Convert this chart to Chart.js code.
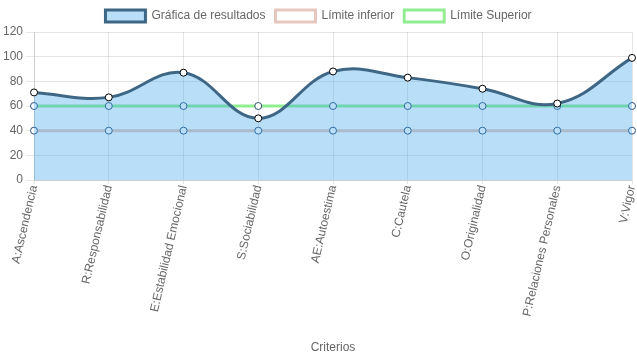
<!DOCTYPE html>
<html>
<head>
<meta charset="utf-8">
<script src="https://cdn.jsdelivr.net/npm/chart.js@4/dist/chart.umd.min.js"></script>
<style>
html,body{margin:0;padding:0;background:#fff;}
#wrap{width:637px;height:359px;}
</style>
</head>
<body>
<div id="wrap"><canvas id="c" width="637" height="359"></canvas></div>
<script>
const categories = ["A:Ascendencia","R:Responsabilidad","E:Estabilidad Emocional","S:Sociabilidad","AE:Autoestima","C:Cautela","O:Originalidad","P:Relaciones Personales","V:Vigor"];
const resultados = [71, 67, 87, 50, 88, 83, 74, 62, 99];
const limiteInferior = [40, 40, 40, 40, 40, 40, 40, 40, 40];
const limiteSuperior = [60, 60, 60, 60, 60, 60, 60, 60, 60];

Chart.defaults.font.family = "'Liberation Sans', Arial, Helvetica, sans-serif";
Chart.defaults.font.size = 12;
Chart.defaults.color = "#666";

new Chart(document.getElementById('c'), {
  type: 'line',
  data: {
    labels: categories,
    datasets: [
      {
        label: 'Gráfica de resultados',
        data: resultados,
        borderColor: '#3e6786',
        backgroundColor: 'rgba(54,162,235,0.35)',
        borderWidth: 3,
        fill: 'origin',
        tension: 0.4,
        pointRadius: 3.5,
        pointBackgroundColor: '#fff',
        pointBorderColor: '#000',
        pointBorderWidth: 1
      },
      {
        label: 'Límite inferior',
        data: limiteInferior,
        borderColor: 'rgb(230,200,190)',
        backgroundColor: '#fff',
        borderWidth: 3,
        fill: false,
        tension: 0,
        pointRadius: 3.5,
        pointBackgroundColor: '#fff',
        pointBorderColor: 'rgb(50,80,120)',
        pointBorderWidth: 1
      },
      {
        label: 'Límite Superior',
        data: limiteSuperior,
        borderColor: 'rgb(144,238,144)',
        backgroundColor: '#fff',
        borderWidth: 3,
        fill: false,
        tension: 0,
        pointRadius: 3.5,
        pointBackgroundColor: '#fff',
        pointBorderColor: 'rgb(50,80,120)',
        pointBorderWidth: 1
      }
    ]
  },
  options: {
    responsive: false,
    animation: false,
    maintainAspectRatio: false,
    layout: { padding: { left: 0, right: 0, top: 0, bottom: 0 } },
    plugins: {
      legend: {
        labels: { boxWidth: 40, boxHeight: 12, color: '#666', padding: 10 }
      },
      tooltip: { enabled: false }
    },
    scales: {
      x: {
        title: { display: true, text: 'Criterios', color: '#666' },
        ticks: { maxRotation: 77, minRotation: 77, color: '#666', padding: 0 },
        grid: { color: 'rgba(0,0,0,0.1)', tickLength: 4 },
        afterFit: function (scale) { scale.paddingRight = 4; scale.height = 179; }
      },
      y: {
        min: 0, max: 120,
        ticks: { stepSize: 20, color: '#666' },
        grid: { color: 'rgba(0,0,0,0.1)' }
      }
    }
  }
});
</script>
</body>
</html>
